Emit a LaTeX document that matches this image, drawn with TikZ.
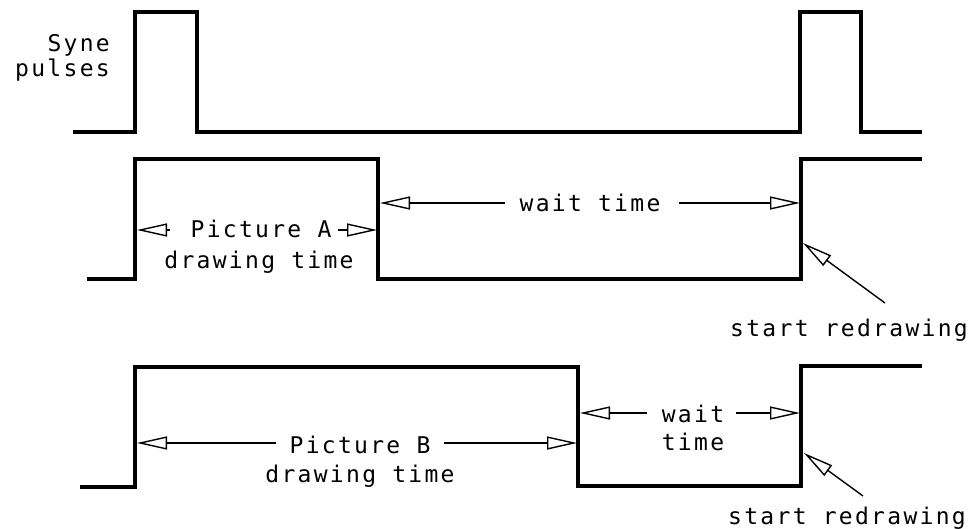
\documentclass[tikz,border=0pt]{standalone}
\usepackage{fontspec}
\newfontfamily\plotfont[LetterSpace=10]{DejaVu Sans Mono}
\usetikzlibrary{arrows.meta}
\tikzset{
  wave/.style={line width=3.2pt, line join=miter},
  lbl/.style={font=\plotfont\fontsize{23}{26}\selectfont, inner sep=0pt, anchor=base},
  dimarrow/.style={line width=1.4pt, -{Triangle[open,length=30pt,width=13pt,line width=1.4pt]}},
}
\begin{document}
\begin{tikzpicture}[x=1pt,y=-1pt]
\useasboundingbox (0,0) rectangle (976,529);
% Sync pulses
\draw[wave] (73,132) -- (135,132) -- (135,12) -- (197,12) -- (197,132) -- (800,132) -- (800,12) -- (861,12) -- (861,132) -- (922,132);
\node[lbl, anchor=base east] (syne1) at (110,52) {Syne};
\node[lbl, anchor=base east] (syne2) at (110,77) {pulses};
% Row A
\draw[wave] (87,279) -- (135,279) -- (135,159) -- (378,159) -- (378,279) -- (801,279) -- (801,159) -- (922,159);
\node[lbl] (pa) at (261,237) {Picture A};
\node[lbl] (pa2) at (259,268) {drawing time};
\coordinate (paL) at (137,230);
\coordinate (paR) at (377,230);
\draw[dimarrow] ([xshift=-20pt]pa.west |- paL) -- (paL);
\draw[dimarrow] ([xshift=6pt]pa.east |- paR) -- (paR);
\node[lbl] (wa) at (590,212) {wait time};
\coordinate (waL) at (380,203);
\coordinate (waR) at (800,203);
\draw[dimarrow] ([xshift=-14pt]wa.west |- waL) -- (waL);
\draw[dimarrow] ([xshift=18pt]wa.east |- waR) -- (waR);
\node[lbl] (sa) at (849,336) {start redrawing};
\coordinate (saTip) at (803,243);
\coordinate (saTail) at (885,303);
\draw[dimarrow] (saTail) -- (saTip);
% Row B
\draw[wave] (80,487) -- (135,487) -- (135,367) -- (578,367) -- (578,486) -- (801,486) -- (801,366) -- (922,366);
\node[lbl] (pb) at (360,453) {Picture B};
\node[lbl] (pb2) at (360,482) {drawing time};
\coordinate (pbL) at (137,443);
\coordinate (pbR) at (577,443);
\draw[dimarrow] ([xshift=-13pt]pb.west |- pbL) -- (pbL);
\draw[dimarrow] ([xshift=13pt]pb.east |- pbR) -- (pbR);
\node[lbl] (wb) at (693,422) {wait};
\node[lbl] (wb2) at (693,450) {time};
\coordinate (wbL) at (580,413);
\coordinate (wbR) at (800,413);
\draw[dimarrow] ([xshift=-15pt]wb.west |- wbL) -- (wbL);
\draw[dimarrow] ([xshift=12pt]wb.east |- wbR) -- (wbR);
\node[lbl] (sb) at (847,524) {start redrawing};
\coordinate (sbTip) at (804,453);
\coordinate (sbTail) at (863,496);
\draw[dimarrow] (sbTail) -- (sbTip);
\end{tikzpicture}
\end{document}
